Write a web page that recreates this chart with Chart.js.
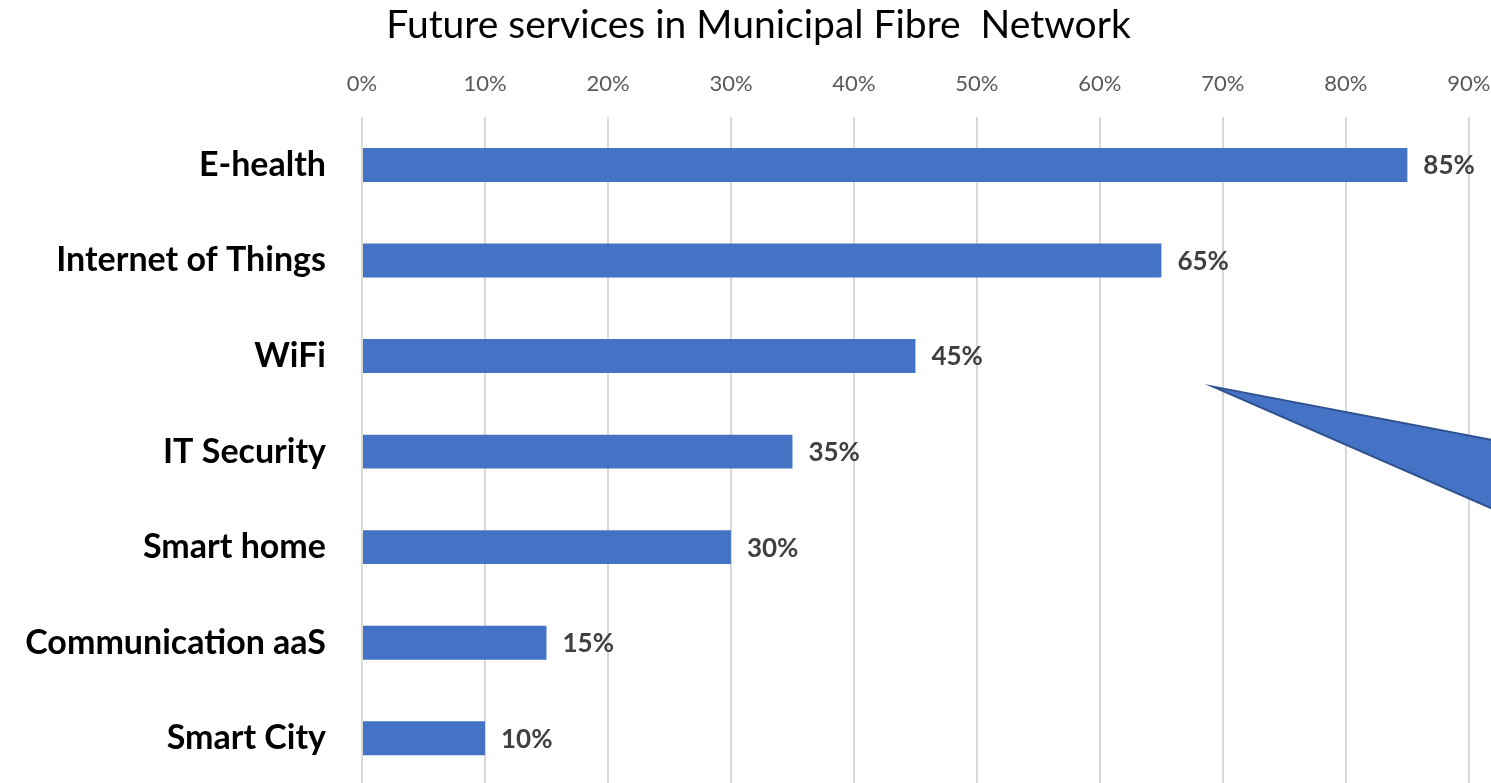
<!DOCTYPE html>
<html>
<head>
<meta charset="utf-8">
<script src="https://cdn.jsdelivr.net/npm/chart.js@4.4.1/dist/chart.umd.min.js"></script>
<style>
    html, body { margin: 0; padding: 0; background: #fff; overflow: hidden; }
    #wrap { position: relative; width: 1491px; height: 786px; }
</style>
</head>
<body>
<div id="wrap"><canvas id="services-chart"></canvas></div>
<script>
// values (percent)
let categories = ['E-health', 'Internet of Things', 'WiFi', 'IT Security', 'Smart home', 'Communication aaS', 'Smart City'];
let shares = [85, 65, 45, 35, 30, 15, 10];
let tickValues = [0, 10, 20, 30, 40, 50, 60, 70, 80, 90];

// value labels at the end of each bar
const barLabels = {
    id: 'barLabels',
    afterDatasetsDraw(chart) {
        const ctx = chart.ctx;
        const meta = chart.getDatasetMeta(0);
        ctx.save();
        ctx.font = 'bold 26px Lato';
        ctx.fillStyle = '#404040';
        ctx.textAlign = 'left';
        ctx.textBaseline = 'middle';
        meta.data.forEach((bar, i) => {
            ctx.fillText(shares[i] + '%', bar.x + 16, bar.y + 1);
        });
        ctx.restore();
    }
};

// the callout pointer that comes in from the right edge
const calloutPointer = {
    id: 'calloutPointer',
    afterDatasetsDraw(chart) {
        const x = chart.scales.x;
        const y = chart.scales.y;
        const right = chart.chartArea.right + 2;
        const pts = [
            [x.getPixelForValue(69.2), y.getPixelForValue(2.32)],
            [right, y.getPixelForValue(2.88)],
            [right, y.getPixelForValue(3.60)]
        ];
        const ctx = chart.ctx;
        ctx.save();
        ctx.beginPath();
        ctx.moveTo(pts[0][0], pts[0][1]);
        ctx.lineTo(pts[1][0], pts[1][1]);
        ctx.lineTo(pts[2][0], pts[2][1]);
        ctx.closePath();
        ctx.fillStyle = '#4472C4';
        ctx.fill();
        ctx.lineWidth = 2;
        ctx.strokeStyle = '#2F528F';
        ctx.stroke();
        ctx.restore();
    }
};

let ctx = document.getElementById('services-chart');
let chart = new Chart(ctx, {
    type: 'bar',
    data: {
        labels: categories,
        datasets: [{
            label: 'Share',
            data: shares,
            backgroundColor: '#4472C4',
            borderWidth: 0,
            barPercentage: 0.355,
            categoryPercentage: 1.0
        }]
    },
    options: {
        indexAxis: 'y',
        responsive: true,
        maintainAspectRatio: false,
        animation: false,
        layout: { padding: { left: 26, right: 0, top: 0, bottom: 0 } },
        scales: {
            x: {
                position: 'top',
                min: 0,
                max: 91.8,
                afterBuildTicks: (scale) => { scale.ticks = tickValues.map(v => ({ value: v })); },
                afterFit: (scale) => { scale.paddingLeft = 0; scale.paddingRight = 0; },
                grid: { color: '#D9D9D9', lineWidth: 2, drawTicks: false },
                border: { display: false },
                ticks: {
                    padding: 20,
                    color: '#595959',
                    font: { family: 'Lato', size: 22 },
                    callback: (v) => v + '%'
                }
            },
            y: {
                afterFit: (scale) => {
                    scale.width = 336;
                    scale.paddingTop = 0;
                    scale.paddingBottom = 0;
                },
                grid: { display: false, drawTicks: false },
                border: { display: false },
                ticks: {
                    padding: 36,
                    color: '#000000',
                    font: { family: 'Lato', size: 34, weight: 'bold' }
                }
            }
        },
        plugins: {
            legend: { display: false },
            tooltip: { enabled: false },
            title: {
                display: true,
                text: 'Future services in Municipal Fibre  Network',
                color: '#000000',
                font: { family: 'Lato', size: 39, weight: 'normal' },
                padding: { top: 2, bottom: 2 }
            }
        }
    },
    plugins: [barLabels, calloutPointer]
});
</script>
</body>
</html>
